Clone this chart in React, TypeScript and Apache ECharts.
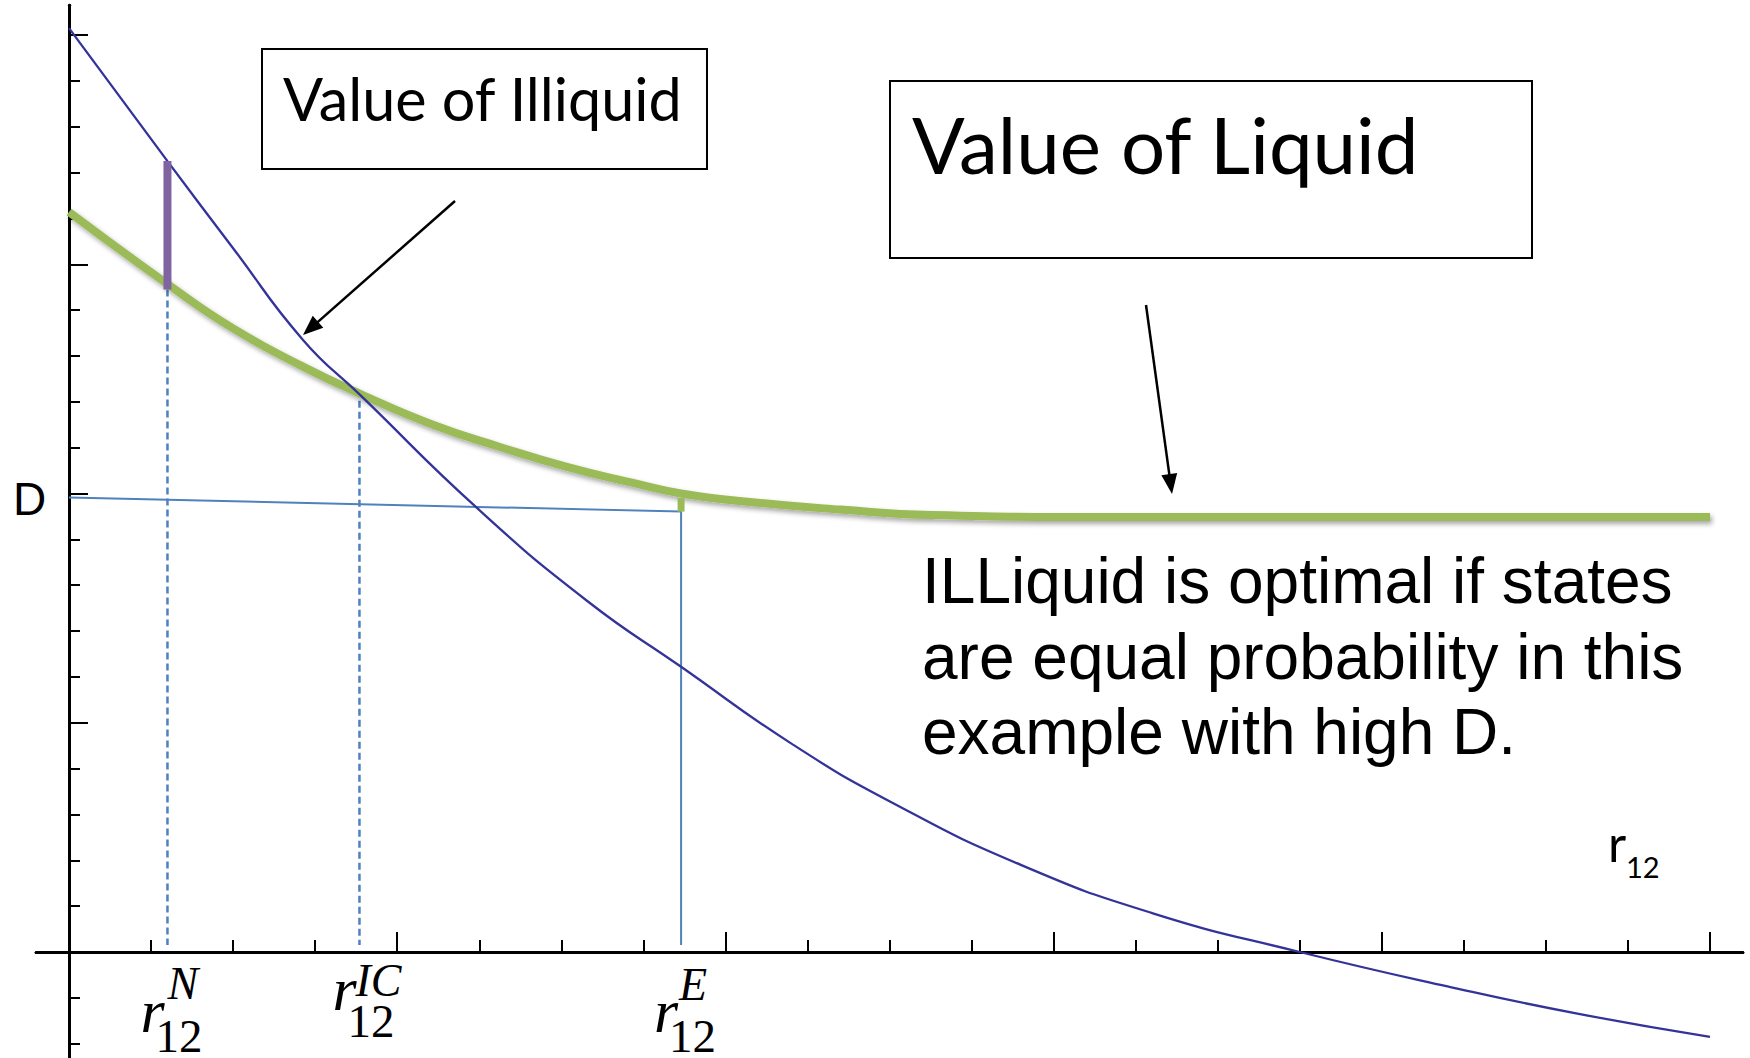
import React, { useEffect, useRef } from "react";
import * as echarts from "echarts";

const W = 1750;
const H = 1058;

// Axis ticks (plot units): majors are longer, minors shorter
const xTicksMajor = [1, 2, 3, 4, 5];
const xTicksMinor = [0.25, 0.5, 0.75, 1.25, 1.5, 1.75, 2.25, 2.5, 2.75, 3.25, 3.5, 3.75, 4.25, 4.5, 4.75];
const yTicksMajor = [1, 2, 3, 4];
const yTicksMinor = [-0.4, -0.2, 0.2, 0.4, 0.6, 0.8, 1.2, 1.4, 1.6, 1.8, 2.2, 2.4, 2.6, 2.8, 3.2, 3.4, 3.6, 3.8];

// Value of the illiquid asset as a function of r12
const illiquidX = [0, 0.3, 0.5, 0.713, 0.887, 1.243, 1.58, 1.865, 2.2, 2.51, 2.9, 3.3, 3.75, 4.2, 4.6, 5];
const illiquidY = [4.03, 3.45, 3.07, 2.67, 2.43, 1.937, 1.53, 1.244, 0.91, 0.65, 0.38, 0.17, 0, -0.15, -0.27, -0.37];

// Value of the liquid asset as a function of r12
const liquidX = [0, 0.3, 0.5, 0.704, 0.887, 1.109, 1.313, 1.517, 1.719, 1.865, 2.075, 2.35, 2.63, 3.14, 5];
const liquidY = [3.228, 2.914, 2.72, 2.56, 2.435, 2.3, 2.203, 2.116, 2.046, 2.0, 1.963, 1.93, 1.906, 1.897, 1.897];

// Critical rates
const rN = 0.3;
const rIC = 0.885;
const rE = 1.865;

// Reference levels
const dStart = 1.983; // D line at r12 = 0
const dEnd = 1.921; // D line at r12 = rE
const rNTop = 2.89; // lower end of the gap bar at rN
const rNGapTop = 3.45; // illiquid value at rN
const rICTop = 2.405;
const rETop = 1.98; // liquid value at rE (lower edge)
const lineFloor = 0.03;

function buildOption() {
  const axisLineStyle = { color: "#000", width: 3 };
  const tickLine = { color: "#000", width: 2 };
  const xBase = {
    type: "value",
    min: -0.1,
    max: 5.1,
    position: "bottom",
    splitLine: { show: false },
    axisLabel: { show: false },
    axisLine: { show: true, onZero: true, onZeroAxisIndex: 0, lineStyle: axisLineStyle },
  };
  const yBase = {
    type: "value",
    min: -0.46,
    max: 4.13,
    position: "left",
    splitLine: { show: false },
    axisLabel: { show: false },
    axisLine: { show: true, onZero: true, onZeroAxisIndex: 0, lineStyle: axisLineStyle },
  };
  const unitX = 328.2;
  const unitY = 229.25;
  const gridLeft = 69 - 0.1 * unitX;
  const gridTop = 952 - 4.13 * unitY;
  const lineBase = { type: "line", symbol: "none", silent: true };
  return {
    animation: false,
    backgroundColor: "#fff",
    grid: {
      left: gridLeft,
      top: gridTop,
      width: 5.2 * unitX,
      height: 4.59 * unitY,
      containLabel: false,
      outerBoundsMode: "none",
    },
    xAxis: [
      { ...xBase, axisTick: { show: true, inside: true, length: 20, lineStyle: tickLine, customValues: xTicksMajor } },
      { ...xBase, axisTick: { show: true, inside: true, length: 12, lineStyle: tickLine, customValues: xTicksMinor } },
    ],
    yAxis: [
      { ...yBase, axisTick: { show: true, inside: true, length: 19, lineStyle: tickLine, customValues: yTicksMajor } },
      { ...yBase, axisTick: { show: true, inside: true, length: 11, lineStyle: tickLine, customValues: yTicksMinor } },
    ],
    series: [
      {
        ...lineBase,
        name: "D",
        z: 2,
        data: [[0, dStart], [rE, dEnd], [rE, lineFloor]],
        lineStyle: { color: "#4F81BD", width: 2 },
      },
      {
        ...lineBase,
        name: "rN",
        z: 2,
        data: [[rN, rNTop], [rN, lineFloor]],
        lineStyle: { color: "#4F81BD", width: 2.5, type: [7, 4] },
      },
      {
        ...lineBase,
        name: "rIC",
        z: 2,
        data: [[rIC, rICTop], [rIC, lineFloor]],
        lineStyle: { color: "#4F81BD", width: 2.5, type: [7, 4] },
      },
      {
        ...lineBase,
        name: "Value of Liquid",
        smooth: 0.5,
        z: 3,
        data: liquidX.map((x, i) => [x, liquidY[i]]),
        lineStyle: {
          color: "#9BBB59",
          width: 8,
          shadowColor: "rgba(0,0,0,0.35)",
          shadowBlur: 5,
          shadowOffsetX: 2,
          shadowOffsetY: 3,
        },
      },
      {
        ...lineBase,
        name: "rE gap",
        z: 3,
        data: [[rE, rETop], [rE, dEnd]],
        lineStyle: { color: "#9BBB59", width: 7, cap: "butt" },
      },
      {
        ...lineBase,
        name: "Value of Illiquid",
        smooth: 0.5,
        z: 4,
        data: illiquidX.map((x, i) => [x, illiquidY[i]]),
        lineStyle: { color: "#33339A", width: 2.3 },
      },
      {
        ...lineBase,
        name: "rN gap",
        z: 5,
        data: [[rN, rNGapTop], [rN, rNTop]],
        lineStyle: { color: "#8064A2", width: 8, cap: "butt" },
      },
    ],
  };
}

// central-baseline offset (fraction of font size) for each face
const CENTRAL: Record<string, number> = {
  "Liberation Sans": 0.3467,
  "Liberation Serif": 0.3374,
  Lato: 0.387,
};

function fitSize(text: string, family: string, target: number) {
  const ctx = document.createElement("canvas").getContext("2d");
  if (!ctx) return 60;
  ctx.font = `100px "${family}"`;
  const w = ctx.measureText(text).width;
  return (100 * target) / w;
}

function label(
  text: string,
  x: number,
  baseline: number,
  size: number,
  family: string,
  italic = false
) {
  const y = baseline - CENTRAL[family] * size;
  return {
    type: "text",
    z: 100,
    silent: true,
    style: {
      text,
      x,
      y,
      fill: "#000",
      fontSize: size,
      fontFamily: family,
      fontStyle: italic ? "italic" : "normal",
      align: "left",
      textAlign: "left",
      verticalAlign: "middle",
      textVerticalAlign: "middle",
    },
  };
}

function arrow(x1: number, y1: number, x2: number, y2: number) {
  const headLen = 20;
  const headW = 8;
  const dx = x2 - x1;
  const dy = y2 - y1;
  const L = Math.hypot(dx, dy);
  const ux = dx / L;
  const uy = dy / L;
  const bx = x2 - ux * headLen;
  const by = y2 - uy * headLen;
  const nx = -uy;
  const ny = ux;
  return [
    {
      type: "line",
      z: 90,
      silent: true,
      shape: { x1, y1, x2: bx + ux * 2, y2: by + uy * 2 },
      style: { stroke: "#000", lineWidth: 2.5 },
    },
    {
      type: "polygon",
      z: 90,
      silent: true,
      shape: {
        points: [
          [x2, y2],
          [bx + nx * headW, by + ny * headW],
          [bx - nx * headW, by - ny * headW],
        ],
      },
      style: { fill: "#000" },
    },
  ];
}

function box(x: number, y: number, w: number, h: number) {
  return {
    type: "rect",
    z: 80,
    silent: true,
    shape: { x, y, width: w, height: h },
    style: { fill: "#fff", stroke: "#000", lineWidth: 2 },
  };
}

// r with a superscript tag and the subscript 12, anchored on a vertical line at lx
function mathLabel(lx: number, sup: string, rBase: number, supBase: number, subBase: number, supDx: number) {
  return [
    label("r", lx - 27, rBase, 62, "Liberation Serif", true),
    label(sup, lx + supDx, supBase, 46, "Liberation Serif", true),
    label("12", lx - 12, subBase, 47, "Liberation Serif", false),
  ];
}

export default function App() {
  const ref = useRef<HTMLDivElement>(null);

  useEffect(() => {
    const el = ref.current;
    if (!el) return;
    const chart = echarts.init(el, null, { renderer: "svg", width: W, height: H });
    chart.setOption(buildOption() as any);

    const px = (x: number) => (chart.convertToPixel({ gridIndex: 0 }, [x, 0]) as number[])[0];

    const illiquidTitle = "Value of Illiquid";
    const liquidTitle = "Value of Liquid";
    const illSize = fitSize(illiquidTitle, "Lato", 400);
    const liqSize = fitSize(liquidTitle, "Lato", 508);

    const elements: any[] = [
      box(262, 49, 445, 120),
      label(illiquidTitle, 283, 121, illSize, "Lato"),
      box(890, 81, 642, 177),
      label(liquidTitle, 912, 174, liqSize, "Lato"),
      ...arrow(455, 201, 303, 335),
      ...arrow(1146, 305, 1172, 494),
      label("ILLiquid is optimal if states", 922, 603, 64, "Liberation Sans"),
      label("are equal probability in this", 922, 679, 64, "Liberation Sans"),
      label("example with high D.", 922, 754, 64, "Liberation Sans"),
      label("D", 13, 515, 46, "Liberation Sans"),
      label("r", 1608, 862, 50, "Lato"),
      label("12", 1626, 878, 29, "Lato"),
      ...mathLabel(px(rN), "N", 1032, 999, 1052, 0),
      ...mathLabel(px(rIC), "IC", 1010, 996, 1037, -4),
      ...mathLabel(px(rE), "E", 1032, 1000, 1052, -2),
    ];
    chart.setOption({ graphic: { elements } } as any);

    return () => chart.dispose();
  }, []);

  return (
    <div
      ref={ref}
      style={{ position: "fixed", left: 0, top: 0, width: W, height: H, background: "#fff" }}
    />
  );
}
